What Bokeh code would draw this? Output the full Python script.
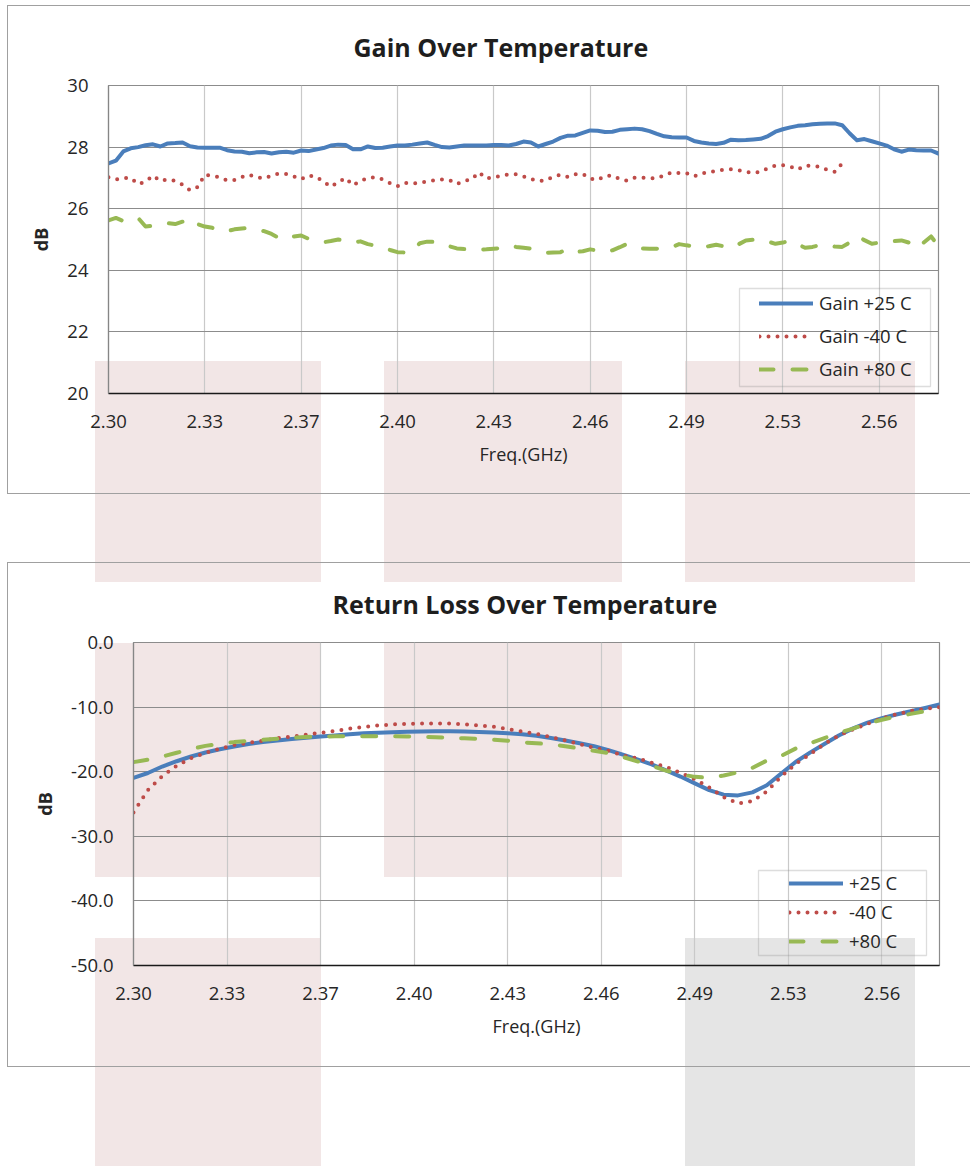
from bokeh.plotting import figure
from bokeh.models import Range1d, FixedTicker, Legend, LegendItem, BoxAnnotation
from bokeh.layouts import column, row
from bokeh.embed import file_html
from bokeh.resources import INLINE

# ---------------- data ----------------
FREQ_TICKS = [2.3, 2.3325, 2.365, 2.3975, 2.43, 2.4625, 2.495, 2.5275, 2.56]
FREQ_LABELS = ["2.30", "2.33", "2.37", "2.40", "2.43", "2.46", "2.49", "2.53", "2.56"]

GAIN_START, GAIN_STEP = 2.30, 0.0025
gain_25 = [27.47, 27.56, 27.86, 27.96, 28.00, 28.06, 28.09, 28.02, 28.12, 28.13,
           28.15, 28.03, 27.99, 27.98, 27.98, 27.98, 27.90, 27.86, 27.85, 27.80,
           27.83, 27.84, 27.79, 27.83, 27.85, 27.82, 27.89, 27.87, 27.92, 27.97,
           28.05, 28.08, 28.07, 27.93, 27.93, 28.02, 27.97, 27.98, 28.02, 28.05,
           28.05, 28.08, 28.12, 28.15, 28.07, 28.00, 27.99, 28.02, 28.05, 28.05,
           28.05, 28.05, 28.07, 28.07, 28.05, 28.10, 28.18, 28.15, 28.02, 28.10,
           28.18, 28.30, 28.37, 28.38, 28.46, 28.54, 28.53, 28.49, 28.50, 28.56,
           28.58, 28.60, 28.58, 28.52, 28.43, 28.35, 28.32, 28.31, 28.31, 28.20,
           28.15, 28.12, 28.10, 28.14, 28.24, 28.22, 28.23, 28.25, 28.27, 28.36,
           28.50, 28.58, 28.64, 28.69, 28.71, 28.74, 28.76, 28.77, 28.77, 28.71,
           28.45, 28.22, 28.26, 28.19, 28.12, 28.05, 27.93, 27.85, 27.92, 27.90,
           27.89, 27.89, 27.79]
gain_m40 = [27.02, 26.95, 26.99, 27.00, 26.80, 26.88, 27.07, 26.90, 26.95, 26.90,
            26.78, 26.60, 26.70, 27.10, 27.07, 27.02, 26.92, 26.93, 27.03, 27.10,
            27.02, 26.98, 27.07, 27.14, 27.13, 27.05, 26.96, 27.08, 27.04, 26.88,
            26.71, 26.86, 27.00, 26.76, 26.90, 26.99, 27.02, 26.95, 26.83, 26.73,
            26.84, 26.82, 26.84, 26.89, 26.92, 26.95, 26.93, 26.80, 26.90, 26.95,
            27.18, 26.98, 27.02, 27.07, 27.11, 27.12, 27.05, 26.96, 26.90, 26.92,
            27.04, 27.10, 27.03, 27.12, 27.13, 26.98, 26.93, 27.06, 27.08, 26.96,
            26.91, 27.01, 27.01, 26.99, 26.99, 27.08, 27.18, 27.16, 27.15, 27.05,
            27.14, 27.20, 27.22, 27.27, 27.28, 27.25, 27.20, 27.16, 27.20, 27.32,
            27.40, 27.41, 27.37, 27.27, 27.40, 27.38, 27.36, 27.26, 27.20, 27.47]
gain_80 = [25.62, 25.70, 25.60, 25.63, 25.70, 25.42, 25.45, 25.50, 25.53, 25.50,
           25.58, 25.68, 25.50, 25.42, 25.38, 25.28, 25.27, 25.33, 25.36, 25.37,
           25.33, 25.27, 25.18, 25.05, 25.00, 25.10, 25.13, 25.02, 24.96, 24.91,
           24.95, 25.00, 24.95, 24.90, 24.94, 24.85, 24.80, 24.75, 24.66, 24.59,
           24.58, 24.60, 24.88, 24.93, 24.92, 24.88, 24.78, 24.71, 24.69, 24.68,
           24.67, 24.68, 24.70, 24.72, 24.80, 24.76, 24.73, 24.70, 24.62, 24.57,
           24.58, 24.59, 24.70, 24.60, 24.62, 24.68, 24.64, 24.60, 24.65, 24.75,
           24.86, 24.78, 24.71, 24.70, 24.70, 24.72, 24.75, 24.85, 24.81, 24.78,
           24.75, 24.78, 24.83, 24.78, 24.72, 24.84, 24.97, 24.99, 25.00, 24.93,
           24.86, 24.90, 24.96, 24.85, 24.73, 24.76, 24.82, 24.82, 24.77, 24.76,
           24.90, 25.11, 24.98, 24.86, 24.90, 24.94, 24.95, 24.97, 24.90, 24.72,
           24.90, 25.10, 24.78]

RL_START, RL_STEP = 2.30, 0.005
rl_25 = [-20.95, -20.20, -19.20, -18.38, -17.65, -17.03, -16.53, -16.09, -15.72, -15.41,
         -15.16, -14.93, -14.73, -14.54, -14.38, -14.20, -14.06, -13.96, -13.88, -13.81,
         -13.76, -13.73, -13.73, -13.77, -13.84, -13.94, -14.05, -14.20, -14.45, -14.78,
         -15.17, -15.60, -16.05, -16.65, -17.35, -18.09, -18.86, -19.78, -20.75, -21.80,
         -22.85, -23.55, -23.67, -23.20, -22.10, -20.30, -18.50, -17.05, -15.70, -14.40,
         -13.30, -12.40, -11.70, -11.15, -10.65, -10.15, -9.60]
rl_m40 = [-26.30, -22.85, -20.68, -19.10, -17.90, -17.08, -16.45, -15.88, -15.53, -15.20,
          -14.80, -14.57, -14.27, -13.98, -13.69, -13.34, -13.08, -12.84, -12.68, -12.59,
          -12.52, -12.52, -12.55, -12.66, -12.87, -13.04, -13.39, -13.77, -14.15, -14.65,
          -15.17, -15.75, -16.30, -16.75, -17.47, -17.92, -18.60, -19.25, -20.18, -21.15,
          -22.45, -23.92, -24.90, -24.56, -23.05, -20.75, -18.82, -17.30, -15.72, -14.41,
          -13.45, -12.57, -11.75, -11.12, -10.60, -10.27, -10.00]
rl_80 = [-18.52, -18.15, -17.65, -17.07, -16.50, -16.00, -15.67, -15.42, -15.23, -15.07,
         -14.91, -14.75, -14.62, -14.55, -14.52, -14.50, -14.50, -14.50, -14.51, -14.54,
         -14.60, -14.66, -14.74, -14.83, -14.92, -15.06, -15.20, -15.47, -15.60, -15.73,
         -16.05, -16.42, -16.77, -17.13, -17.72, -18.39, -19.09, -19.83, -20.40, -20.80,
         -20.93, -20.60, -20.10, -19.40, -18.27, -17.55, -16.42, -15.60, -14.80, -14.00,
         -13.32, -12.56, -11.95, -11.47, -11.05, -10.62, -10.16]

GAIN_YTICKS = [20, 22, 24, 26, 28, 30]
GAIN_YLABELS = ["20", "22", "24", "26", "28", "30"]
RL_YTICKS = [-50, -40, -30, -20, -10, 0]
RL_YLABELS = ["-50.0", "-40.0", "-30.0", "-20.0", "-10.0", "0.0"]

gain_freq = [round(GAIN_START + GAIN_STEP * i, 4) for i in range(len(gain_25))]
rl_freq = [round(RL_START + RL_STEP * i, 4) for i in range(len(rl_25))]

# ---------------- style ----------------
FONT = "Open Sans"
TXT = "#262626"
BLUE, RED, GREEN = "#4A7EBB", "#BE4B48", "#98B954"
PINK, GRAY, EDGE = "#F2E6E6", "#E5E5E5", "#A0A0A0"
W = 970


def page_css(rects):
    """Page decoration (frame of the chart box and the shaded blocks) as CSS
    backgrounds of the figure element, painted beneath the transparent canvas."""
    imgs, pos, size = [], [], []
    for x, y, w, h, c in rects:
        imgs.append(f"linear-gradient({c},{c})")
        pos.append(f"{x}px {y}px")
        size.append(f"{w}px {h}px")
    return {"background-color": "white",
            "background-image": ", ".join(imgs),
            "background-position": ", ".join(pos),
            "background-size": ", ".join(size),
            "background-repeat": "no-repeat"}


def make_fig(height, bl, bt, br, bb, yr, yticks, ylabels, title, title_offset):
    p = figure(width=W, height=height, output_backend="svg", toolbar_location=None,
               x_range=Range1d(2.30, 2.58), y_range=Range1d(*yr),
               min_border_left=bl, min_border_top=bt, min_border_right=br,
               min_border_bottom=bb, title=title)
    p.title.align = "left"
    p.title.offset = title_offset
    p.title.vertical_align = "bottom"
    p.title.standoff = 44
    p.title.text_font = FONT
    p.title.text_font_style = "bold"
    p.title.text_font_size = "25px"
    p.title.text_color = "#1e1e1e"
    xt = FixedTicker(ticks=FREQ_TICKS)
    yt = FixedTicker(ticks=yticks)
    p.xaxis.ticker = xt
    p.xgrid.ticker = xt
    p.yaxis.ticker = yt
    p.ygrid.ticker = yt
    p.xaxis.major_label_overrides = dict(zip(FREQ_TICKS, FREQ_LABELS))
    p.yaxis.major_label_overrides = dict(zip(yticks, ylabels))
    for ax in (p.xaxis[0], p.yaxis[0]):
        ax.major_tick_line_color = None
        ax.minor_tick_line_color = None
        ax.major_tick_out = 0
        ax.major_tick_in = 0
        ax.major_label_text_font = FONT
        ax.major_label_text_font_size = "18.5px"
        ax.major_label_text_color = TXT
        ax.axis_label_text_font = FONT
        ax.axis_label_text_color = TXT
    p.xaxis.axis_line_color = "#1a1a1a"
    p.xaxis.axis_line_width = 1.4
    p.yaxis.axis_line_color = "#868686"
    p.yaxis.axis_line_width = 1.2
    p.xaxis.major_label_standoff = 21
    p.yaxis.major_label_standoff = 20
    p.xaxis.axis_label = "Freq.(GHz)"
    p.xaxis.axis_label_text_font_style = "normal"
    p.xaxis.axis_label_text_font_size = "18px"
    p.xaxis.axis_label_standoff = 11
    p.yaxis.axis_label = "dB"
    p.yaxis.axis_label_text_font_style = "bold"
    p.yaxis.axis_label_text_font_size = "18px"
    p.yaxis.axis_label_standoff = 11
    p.xgrid.grid_line_color = "#C9C9C9"
    p.xgrid.grid_line_width = 1.2
    p.ygrid.grid_line_color = "#8C8C8C"
    p.ygrid.grid_line_width = 1.0
    p.outline_line_color = "#8C8C8C"
    p.outline_line_width = 1.2
    p.background_fill_alpha = 0
    p.border_fill_alpha = 0
    return p


def add_legend(p, rs, labels, x, y, spacing):
    items = [LegendItem(label=lab, renderers=[r]) for lab, r in zip(labels, rs)]
    leg = Legend(items=items, location=(x, y), orientation="vertical",
                 padding=0, margin=0, spacing=spacing,
                 glyph_width=54, glyph_height=20, label_height=20, label_standoff=6,
                 label_text_font=FONT, label_text_font_size="18.5px",
                 label_text_color=TXT, border_line_alpha=0,
                 background_fill_alpha=0)
    p.add_layout(leg)


def legend_box(p, l, r, t, b):
    p.add_layout(BoxAnnotation(left=l, right=r, top=t, bottom=b,
                               left_units="canvas", right_units="canvas",
                               top_units="canvas", bottom_units="canvas",
                               level="annotation", fill_alpha=0,
                               line_color="#8E8E8E", line_width=1.3))


# ---------------- top chart ----------------
H1 = 562
p1 = make_fig(H1, 108, 85, 32, 169, (20, 30), GAIN_YTICKS, GAIN_YLABELS,
              "Gain Over Temperature", 245)
p1.styles = page_css([
    (7, 5, 963, 1, EDGE), (7, 5, 1, 489, EDGE), (7, 493, 963, 1, EDGE),
    (95, 361, 226, 201, PINK), (384, 361, 238, 201, PINK), (685, 361, 230, 201, PINK),
])
a1 = p1.line(gain_freq, gain_25, line_color=BLUE, line_width=4,
             line_cap="round", line_join="round")
a2 = p1.line(gain_freq[:len(gain_m40)], gain_m40, line_color=RED, line_width=4,
             line_dash="0 9", line_cap="round", line_join="round")
a3 = p1.line(gain_freq, gain_80, line_color=GREEN, line_width=4,
             line_dash="14 19", line_cap="round", line_join="round")
legend_box(p1, 739, 930, 288, 386)
add_legend(p1, [a1, a2, a3], ["Gain +25 C", "Gain -40 C", "Gain +80 C"], 651, 12, 8)

# ---------------- bottom chart ----------------
H2 = 604
p2 = make_fig(H2, 133, 80, 31, 201, (-50, 0), RL_YTICKS, RL_YLABELS,
              "Return Loss Over Temperature", 199)
p2.styles = page_css([
    (7, 0, 963, 1, EDGE), (7, 0, 1, 504, EDGE), (7, 504, 963, 1, EDGE),
    (95, 0, 226, 20, PINK), (384, 0, 238, 20, PINK), (685, 0, 230, 20, PINK),
    (95, 81, 226, 234, PINK), (384, 81, 238, 234, PINK),
    (95, 376, 226, 228, PINK), (685, 376, 230, 228, GRAY),
])
b1 = p2.line(rl_freq, rl_25, line_color=BLUE, line_width=4,
             line_cap="round", line_join="round")
b2 = p2.line(rl_freq, rl_m40, line_color=RED, line_width=4,
             line_dash="0 9", line_cap="round", line_join="round")
b3 = p2.line(rl_freq, rl_80, line_color=GREEN, line_width=4,
             line_dash="14 19", line_cap="round", line_join="round")
legend_box(p2, 758, 926, 308, 393)
add_legend(p2, [b1, b2, b3], ["+25 C", "-40 C", "+80 C"], 656, 12, 4)

page = column(row(p1), row(p2), spacing=0)
open("out.html", "w").write(file_html(page, INLINE))
